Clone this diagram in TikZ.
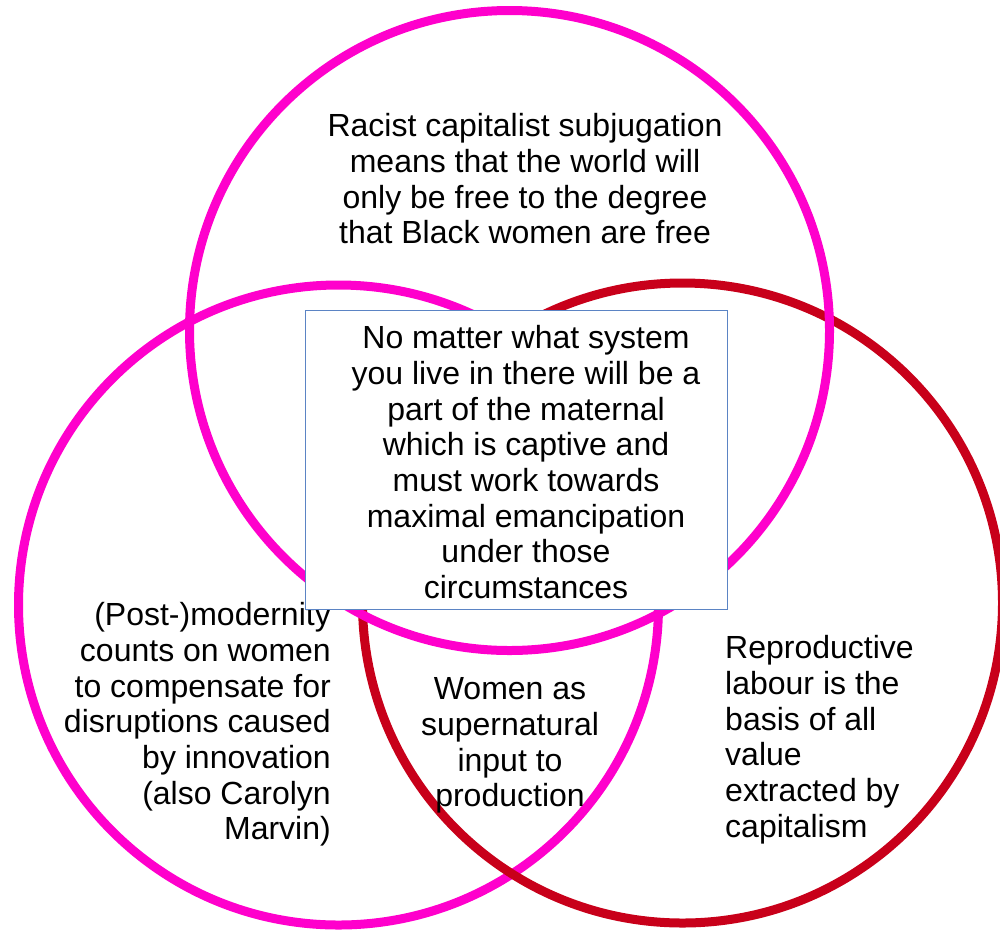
\documentclass[tikz,border=0pt]{standalone}
\usepackage{fontspec}
\setmainfont{Liberation Sans}
\definecolor{vmag}{HTML}{FF00CC}
\definecolor{vred}{HTML}{C8001A}
\definecolor{vbox}{HTML}{5B84C4}
\begin{document}
\begin{tikzpicture}[x=1pt,y=-1pt,
  vcircle/.style={circle,minimum size=640pt,inner sep=0pt,line width=9pt},
  vtext/.style={inner sep=0pt,font=\fontsize{32}{35.7}\selectfont},
  vframe/.style={draw=vbox,fill=white,line width=1pt}]
\useasboundingbox (0,0) rectangle (1000,930);
\fill[white] (0,0) rectangle (1000,930);
\node[vcircle,draw=vmag] (cleft) at (338.5,605) {};
\node[vcircle,draw=vred] (cright) at (682.5,603) {};
\node[vcircle,draw=vmag] (ctop) at (509.5,330.5) {};
\node[vtext,align=right,anchor=north east] (tleft) at (331,600.5)
  {\rule{0pt}{25pt}(Post-)modernity\\counts on women\\to compensate for\\disruptions caused\\by innovation\\(also Carolyn\\Marvin)};
\node[vtext,align=center,anchor=north] (ttop) at (525,111.5)
  {\rule{0pt}{25pt}Racist capitalist subjugation\\means that the world will\\only be free to the degree\\that Black women are free};
\node[vtext,align=center,anchor=north] (tbottom) at (510,674.5)
  {\rule{0pt}{25pt}Women as\\supernatural\\input to\\production};
\node[vtext,align=left,anchor=north west] (tright) at (725,633.5)
  {\rule{0pt}{25pt}Reproductive\\labour is the\\basis of all\\value\\extracted by\\capitalism};
\draw[vframe] (305.5,310) rectangle (727.5,609);
\node[vtext,align=center,anchor=north] (tcenter) at (526,323.5)
  {\rule{0pt}{25pt}No matter what system\\you live in there will be a\\part of the maternal\\which is captive and\\must work towards\\maximal emancipation\\under those\\circumstances};
\end{tikzpicture}
\end{document}
